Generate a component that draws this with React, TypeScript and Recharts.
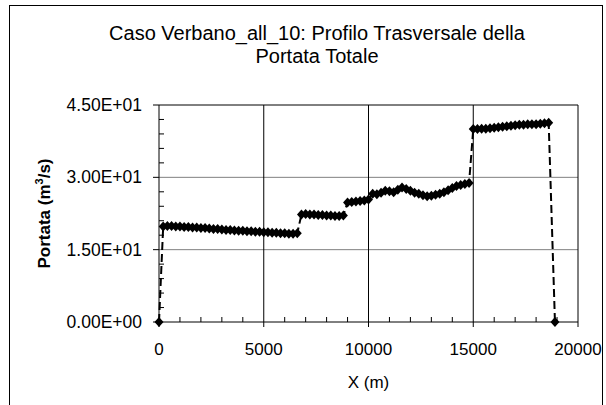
import React from 'react';
import { LineChart, Line, XAxis, YAxis, ReferenceLine, Label } from 'recharts';

// progressive distance along the cross-section (m)
const stations = [
  0,
  200, 400, 600, 800, 1000, 1200, 1400, 1600, 1800, 2000,
  2200, 2400, 2600, 2800, 3000, 3200, 3400, 3600, 3800, 4000,
  4200, 4400, 4600, 4800, 5000, 5200, 5400, 5600, 5800, 6000,
  6200, 6400, 6600,
  6800, 7000, 7200, 7400, 7600, 7800, 8000, 8200, 8400, 8600, 8800,
  9000, 9200, 9400, 9600, 9800, 10000,
  10200, 10400, 10600, 10800, 11000, 11200, 11400, 11600, 11800, 12000,
  12200, 12400, 12600, 12800, 13000, 13200, 13400, 13600, 13800, 14000,
  14200, 14400, 14600, 14800,
  15000, 15200, 15400, 15600, 15800, 16000, 16200, 16400, 16600, 16800,
  17000, 17200, 17400, 17600, 17800, 18000, 18200, 18400, 18600,
  18900,
];

// total discharge (m3/s) at each station
const portata = [
  0,
  19.8, 19.9, 19.9, 19.8, 19.8, 19.7, 19.7, 19.6, 19.6, 19.5,
  19.5, 19.4, 19.3, 19.3, 19.2, 19.1, 19.1, 19.0, 18.9, 18.9,
  18.8, 18.8, 18.7, 18.7, 18.6, 18.6, 18.5, 18.5, 18.4, 18.4,
  18.3, 18.3, 18.4,
  22.3, 22.4, 22.3, 22.3, 22.2, 22.2, 22.1, 22.1, 22.0, 22.0, 22.1,
  24.8, 24.9, 25.0, 25.1, 25.2, 25.4,
  26.6, 26.5, 26.8, 27.2, 27.1, 26.9, 27.4, 27.9, 27.6, 27.2,
  26.8, 26.6, 26.3, 26.1, 26.2, 26.4, 26.6, 26.9, 27.3, 27.8,
  28.2, 28.4, 28.6, 28.8,
  40.0, 40.0, 40.1, 40.1, 40.2, 40.3, 40.4, 40.5, 40.6, 40.7,
  40.8, 40.9, 40.9, 41.0, 41.0, 41.0, 41.1, 41.2, 41.3,
  0,
];

const xTicks = [0, 1000, 2000, 3000, 4000, 5000, 6000, 7000, 8000, 9000, 10000,
  11000, 12000, 13000, 14000, 15000, 16000, 17000, 18000, 19000, 20000];
const xLabelled = [0, 5000, 10000, 15000, 20000];
const yTicks = [0, 3, 6, 9, 12, 15, 18, 21, 24, 27, 30, 33, 36, 39, 42, 45];
const yLabelled = [0, 15, 30, 45];

const data = stations.map((x, i) => ({ x, q: portata[i] }));

const FONT = '"Liberation Sans", Arial, sans-serif';

// Excel-like scientific notation: 1.50E+01
const sci = (v: number) => {
  const [m, e] = v.toExponential(2).split('e');
  const n = Math.abs(parseInt(e, 10));
  return `${m}E${e[0] === '-' ? '-' : '+'}${n < 10 ? '0' + n : n}`;
};

const XTick = (props: any) => {
  const { x, y, payload } = props;
  const major = xLabelled.includes(payload.value);
  return (
    <g>
      {major
        ? <line x1={x} x2={x} y1={y} y2={y + 5} stroke="#000" />
        : <line x1={x} x2={x} y1={y} y2={y - 5} stroke="#000" />}
      {major && (
        <text x={x} y={y + 33} textAnchor="middle" fontSize={17} fontFamily={FONT} fill="#000">
          {payload.value}
        </text>
      )}
    </g>
  );
};

const YTick = (props: any) => {
  const { x, y, payload } = props;
  const major = yLabelled.includes(payload.value);
  return (
    <g>
      {major
        ? <line x1={x - 6} x2={x} y1={y} y2={y} stroke="#000" />
        : <line x1={x} x2={x + 5} y1={y} y2={y} stroke="#000" />}
      {major && (
        <text x={x - 17} y={y + 6} textAnchor="end" fontSize={17.5} fontFamily={FONT} fill="#000">
          {sci(payload.value)}
        </text>
      )}
    </g>
  );
};

const Diamond = (props: any) => {
  const { cx, cy, index } = props;
  if (cx == null || cy == null) return <g key={index} />;
  return (
    <polygon
      key={index}
      points={`${cx},${cy - 5} ${cx + 4.5},${cy} ${cx},${cy + 5} ${cx - 4.5},${cy}`}
      fill="#000"
    />
  );
};

const YTitle = (props: any) => {
  const vb = props.viewBox;
  const cx = 50;
  const cy = vb.y + vb.height / 2;
  return (
    <text
      x={cx}
      y={cy}
      transform={`rotate(-90, ${cx}, ${cy})`}
      textAnchor="middle"
      fontSize={17}
      fontWeight="bold"
      fontFamily={FONT}
      fill="#000"
    >
      Portata (m<tspan dy={-7} fontSize={11}>3</tspan><tspan dy={7}>/s)</tspan>
    </text>
  );
};

export default function App() {
  return (
    <div style={{ position: 'absolute', left: 0, top: 0, width: 606, height: 405, background: '#fff' }}>
      <svg width={606} height={405} style={{ position: 'absolute', left: 0, top: 0 }}>
        <rect x={9.5} y={5.5} width={593} height={430} fill="#fff" stroke="#000" />
        <text x={317} y={40} textAnchor="middle" fontSize={20} fontFamily={FONT} fill="#000">
          Caso Verbano_all_10: Profilo Trasversale della
        </text>
        <text x={317} y={63} textAnchor="middle" fontSize={20} fontFamily={FONT} fill="#000">
          Portata Totale
        </text>
      </svg>
      <div style={{ position: 'absolute', left: 0, top: 0 }}>
        <LineChart
          width={606}
          height={405}
          data={data}
          margin={{ top: 105, right: 28, bottom: 53, left: 99 }}
        >
          <XAxis
            dataKey="x"
            type="number"
            domain={[0, 20000]}
            ticks={xTicks}
            interval={0}
            height={30}
            axisLine={{ stroke: '#000' }}
            tickLine={false}
            tickSize={0}
            tickMargin={0}
            tick={<XTick />}
          >
            <Label
              value="X (m)"
              position="insideBottom"
              content={(p: any) => (
                <text
                  x={p.viewBox.x + p.viewBox.width / 2}
                  y={388}
                  textAnchor="middle"
                  fontSize={17}
                  fontFamily={FONT}
                  fill="#000"
                >
                  X (m)
                </text>
              )}
            />
          </XAxis>
          <YAxis
            type="number"
            domain={[0, 45]}
            ticks={yTicks}
            interval={0}
            width={60}
            axisLine={{ stroke: '#000' }}
            tickLine={false}
            tickSize={0}
            tickMargin={0}
            tick={<YTick />}
          >
            <Label content={<YTitle />} />
          </YAxis>
          <ReferenceLine y={15} stroke="#808080" />
          <ReferenceLine y={30} stroke="#808080" />
          <ReferenceLine y={45} stroke="#000" />
          <ReferenceLine x={5000} stroke="#000" />
          <ReferenceLine x={10000} stroke="#000" />
          <ReferenceLine x={15000} stroke="#000" />
          <ReferenceLine x={20000} stroke="#000" />
          <Line
            type="linear"
            dataKey="q"
            stroke="#000"
            strokeWidth={2}
            strokeDasharray="8 4"
            dot={<Diamond />}
            activeDot={false}
            isAnimationActive={false}
          />
        </LineChart>
      </div>
    </div>
  );
}
